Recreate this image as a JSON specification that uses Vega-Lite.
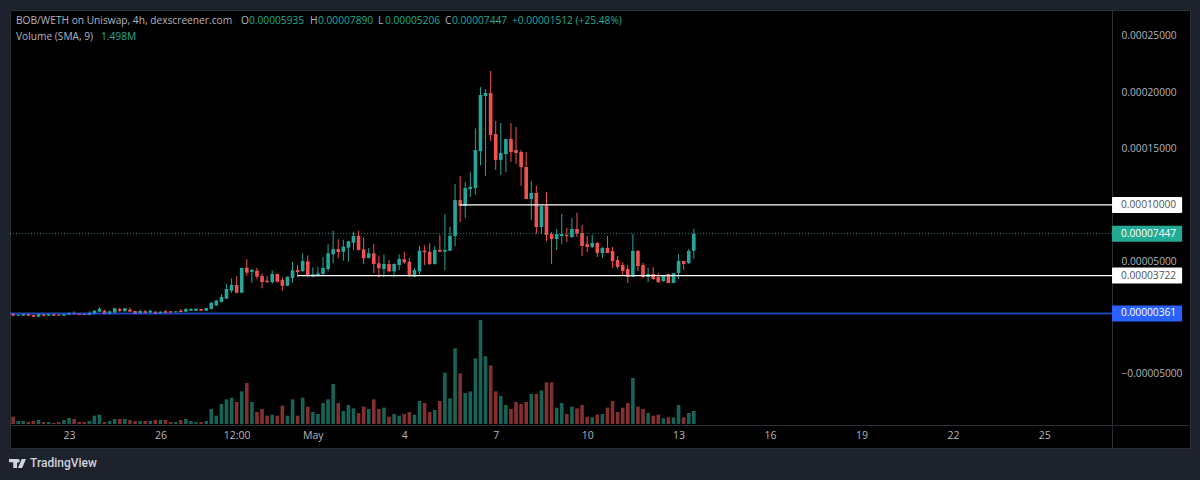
{
  "$schema": "https://vega.github.io/schema/vega-lite/v6.json",
  "autosize": {"type": "none"},
  "padding": {"left": 10, "top": 10, "right": 10, "bottom": 32},
  "width": 1180,
  "height": 438,
  "background": "#1e222d",
  "view": {"fill": "#000000", "stroke": "#2a2e39"},
  "config": {"font": "Open Sans", "text": {"font": "Open Sans"}},
  "datasets": {
    "bars": [
      {"t":"2023-04-21T00:00Z","o":0.0000020,"h":0.0000024,"l":0.0000012,"c":0.0000022,"v":1.95},
      {"t":"2023-04-21T04:00Z","o":0.0000034,"h":0.0000040,"l":0.0000012,"c":0.0000016,"v":1.1},
      {"t":"2023-04-21T08:00Z","o":0.0000016,"h":0.0000028,"l":0.0000012,"c":0.0000025,"v":0.45},
      {"t":"2023-04-21T12:00Z","o":0.0000016,"h":0.0000035,"l":0.0000013,"c":0.0000032,"v":0.45},
      {"t":"2023-04-21T16:00Z","o":0.0000032,"h":0.0000035,"l":0.0000012,"c":0.0000016,"v":0.3},
      {"t":"2023-04-21T20:00Z","o":0.0000022,"h":0.0000026,"l":0.0000004,"c":0.0000007,"v":0.45},
      {"t":"2023-04-22T00:00Z","o":0.0000007,"h":0.0000034,"l":0.0000005,"c":0.0000032,"v":0.6},
      {"t":"2023-04-22T04:00Z","o":0.0000030,"h":0.0000033,"l":0.0000014,"c":0.0000016,"v":0.3},
      {"t":"2023-04-22T08:00Z","o":0.0000016,"h":0.0000036,"l":0.0000013,"c":0.0000032,"v":0.3},
      {"t":"2023-04-22T12:00Z","o":0.0000030,"h":0.0000036,"l":0.0000013,"c":0.0000016,"v":0.15},
      {"t":"2023-04-22T16:00Z","o":0.0000025,"h":0.0000028,"l":0.0000014,"c":0.0000016,"v":0.3},
      {"t":"2023-04-22T20:00Z","o":0.0000016,"h":0.0000034,"l":0.0000014,"c":0.0000032,"v":0.6},
      {"t":"2023-04-23T00:00Z","o":0.0000025,"h":0.0000046,"l":0.0000022,"c":0.0000040,"v":0.9},
      {"t":"2023-04-23T04:00Z","o":0.0000040,"h":0.0000055,"l":0.0000026,"c":0.0000028,"v":0.75},
      {"t":"2023-04-23T08:00Z","o":0.0000034,"h":0.0000037,"l":0.0000020,"c":0.0000022,"v":0.3},
      {"t":"2023-04-23T12:00Z","o":0.0000034,"h":0.0000037,"l":0.0000020,"c":0.0000022,"v":0.3},
      {"t":"2023-04-23T16:00Z","o":0.0000022,"h":0.0000055,"l":0.0000019,"c":0.0000043,"v":0.45},
      {"t":"2023-04-23T20:00Z","o":0.0000031,"h":0.0000065,"l":0.0000028,"c":0.0000060,"v":1.25},
      {"t":"2023-04-24T00:00Z","o":0.0000052,"h":0.0000092,"l":0.0000050,"c":0.0000078,"v":1.4},
      {"t":"2023-04-24T04:00Z","o":0.0000060,"h":0.0000068,"l":0.0000028,"c":0.0000031,"v":0.3},
      {"t":"2023-04-24T08:00Z","o":0.0000031,"h":0.0000060,"l":0.0000028,"c":0.0000055,"v":0.45},
      {"t":"2023-04-24T12:00Z","o":0.0000043,"h":0.0000086,"l":0.0000040,"c":0.0000082,"v":0.75},
      {"t":"2023-04-24T16:00Z","o":0.0000075,"h":0.0000087,"l":0.0000049,"c":0.0000060,"v":0.75},
      {"t":"2023-04-24T20:00Z","o":0.0000055,"h":0.0000085,"l":0.0000052,"c":0.0000082,"v":0.75},
      {"t":"2023-04-25T00:00Z","o":0.0000070,"h":0.0000087,"l":0.0000050,"c":0.0000052,"v":0.6},
      {"t":"2023-04-25T04:00Z","o":0.0000058,"h":0.0000060,"l":0.0000028,"c":0.0000031,"v":0.45},
      {"t":"2023-04-25T08:00Z","o":0.0000034,"h":0.0000070,"l":0.0000031,"c":0.0000058,"v":0.45},
      {"t":"2023-04-25T12:00Z","o":0.0000055,"h":0.0000067,"l":0.0000037,"c":0.0000040,"v":0.45},
      {"t":"2023-04-25T16:00Z","o":0.0000043,"h":0.0000070,"l":0.0000040,"c":0.0000060,"v":0.45},
      {"t":"2023-04-25T20:00Z","o":0.0000052,"h":0.0000055,"l":0.0000028,"c":0.0000031,"v":0.6},
      {"t":"2023-04-26T00:00Z","o":0.0000034,"h":0.0000055,"l":0.0000031,"c":0.0000052,"v":0.6},
      {"t":"2023-04-26T04:00Z","o":0.0000055,"h":0.0000067,"l":0.0000037,"c":0.0000040,"v":0.6},
      {"t":"2023-04-26T08:00Z","o":0.0000055,"h":0.0000058,"l":0.0000040,"c":0.0000043,"v":0.3},
      {"t":"2023-04-26T12:00Z","o":0.0000046,"h":0.0000058,"l":0.0000043,"c":0.0000055,"v":0.3},
      {"t":"2023-04-26T16:00Z","o":0.0000060,"h":0.0000075,"l":0.0000046,"c":0.0000049,"v":0.6},
      {"t":"2023-04-26T20:00Z","o":0.0000052,"h":0.0000084,"l":0.0000049,"c":0.0000075,"v":0.75},
      {"t":"2023-04-27T00:00Z","o":0.0000060,"h":0.0000084,"l":0.0000058,"c":0.0000075,"v":0.45},
      {"t":"2023-04-27T04:00Z","o":0.0000060,"h":0.0000084,"l":0.0000058,"c":0.0000078,"v":0.3},
      {"t":"2023-04-27T08:00Z","o":0.0000075,"h":0.0000078,"l":0.0000058,"c":0.0000060,"v":0.3},
      {"t":"2023-04-27T12:00Z","o":0.0000060,"h":0.0000087,"l":0.0000058,"c":0.0000084,"v":0.45},
      {"t":"2023-04-27T16:00Z","o":0.0000075,"h":0.0000137,"l":0.0000072,"c":0.0000131,"v":2.25},
      {"t":"2023-04-27T20:00Z","o":0.0000108,"h":0.0000158,"l":0.0000102,"c":0.0000149,"v":1.25},
      {"t":"2023-04-28T00:00Z","o":0.0000137,"h":0.0000209,"l":0.0000134,"c":0.0000182,"v":3.0},
      {"t":"2023-04-28T04:00Z","o":0.0000167,"h":0.0000297,"l":0.0000164,"c":0.0000253,"v":3.7},
      {"t":"2023-04-28T08:00Z","o":0.0000238,"h":0.0000348,"l":0.0000220,"c":0.0000289,"v":3.95},
      {"t":"2023-04-28T12:00Z","o":0.0000289,"h":0.0000369,"l":0.0000217,"c":0.0000220,"v":3.3},
      {"t":"2023-04-28T16:00Z","o":0.0000220,"h":0.0000443,"l":0.0000217,"c":0.0000440,"v":4.9},
      {"t":"2023-04-28T20:00Z","o":0.0000442,"h":0.0000517,"l":0.0000369,"c":0.0000398,"v":6.15},
      {"t":"2023-04-29T00:00Z","o":0.0000404,"h":0.0000434,"l":0.0000309,"c":0.0000422,"v":3.3},
      {"t":"2023-04-29T04:00Z","o":0.0000416,"h":0.0000443,"l":0.0000339,"c":0.0000362,"v":1.8},
      {"t":"2023-04-29T08:00Z","o":0.0000369,"h":0.0000392,"l":0.0000259,"c":0.0000315,"v":2.25},
      {"t":"2023-04-29T12:00Z","o":0.0000327,"h":0.0000368,"l":0.0000304,"c":0.0000315,"v":1.25},
      {"t":"2023-04-29T16:00Z","o":0.0000313,"h":0.0000419,"l":0.0000300,"c":0.0000386,"v":1.4},
      {"t":"2023-04-29T20:00Z","o":0.0000386,"h":0.0000390,"l":0.0000310,"c":0.0000318,"v":1.25},
      {"t":"2023-04-30T00:00Z","o":0.0000333,"h":0.0000357,"l":0.0000238,"c":0.0000282,"v":2.75},
      {"t":"2023-04-30T04:00Z","o":0.0000282,"h":0.0000365,"l":0.0000280,"c":0.0000362,"v":1.25},
      {"t":"2023-04-30T08:00Z","o":0.0000350,"h":0.0000493,"l":0.0000309,"c":0.0000419,"v":3.7},
      {"t":"2023-04-30T12:00Z","o":0.0000422,"h":0.0000466,"l":0.0000357,"c":0.0000404,"v":1.25},
      {"t":"2023-04-30T16:00Z","o":0.0000413,"h":0.0000569,"l":0.0000404,"c":0.0000502,"v":3.95},
      {"t":"2023-04-30T20:00Z","o":0.0000499,"h":0.0000552,"l":0.0000357,"c":0.0000369,"v":2.6},
      {"t":"2023-05-01T00:00Z","o":0.0000362,"h":0.0000445,"l":0.0000357,"c":0.0000386,"v":1.8},
      {"t":"2023-05-01T04:00Z","o":0.0000371,"h":0.0000450,"l":0.0000362,"c":0.0000392,"v":1.5},
      {"t":"2023-05-01T08:00Z","o":0.0000386,"h":0.0000537,"l":0.0000380,"c":0.0000440,"v":3.15},
      {"t":"2023-05-01T12:00Z","o":0.0000431,"h":0.0000650,"l":0.0000410,"c":0.0000570,"v":3.7},
      {"t":"2023-05-01T16:00Z","o":0.0000561,"h":0.0000770,"l":0.0000481,"c":0.0000608,"v":6.0},
      {"t":"2023-05-01T20:00Z","o":0.0000608,"h":0.0000694,"l":0.0000526,"c":0.0000582,"v":3.15},
      {"t":"2023-05-02T00:00Z","o":0.0000584,"h":0.0000690,"l":0.0000504,"c":0.0000629,"v":1.95},
      {"t":"2023-05-02T04:00Z","o":0.0000620,"h":0.0000680,"l":0.0000495,"c":0.0000677,"v":2.85},
      {"t":"2023-05-02T08:00Z","o":0.0000664,"h":0.0000760,"l":0.0000602,"c":0.0000724,"v":2.35},
      {"t":"2023-05-02T12:00Z","o":0.0000724,"h":0.0000768,"l":0.0000595,"c":0.0000600,"v":1.65},
      {"t":"2023-05-02T16:00Z","o":0.0000606,"h":0.0000712,"l":0.0000473,"c":0.0000526,"v":2.6},
      {"t":"2023-05-02T20:00Z","o":0.0000528,"h":0.0000617,"l":0.0000525,"c":0.0000570,"v":2.25},
      {"t":"2023-05-03T00:00Z","o":0.0000570,"h":0.0000653,"l":0.0000395,"c":0.0000475,"v":3.7},
      {"t":"2023-05-03T04:00Z","o":0.0000481,"h":0.0000550,"l":0.0000353,"c":0.0000437,"v":2.25},
      {"t":"2023-05-03T08:00Z","o":0.0000431,"h":0.0000560,"l":0.0000357,"c":0.0000475,"v":2.45},
      {"t":"2023-05-03T12:00Z","o":0.0000475,"h":0.0000510,"l":0.0000400,"c":0.0000410,"v":1.1},
      {"t":"2023-05-03T16:00Z","o":0.0000410,"h":0.0000480,"l":0.0000357,"c":0.0000475,"v":1.5},
      {"t":"2023-05-03T20:00Z","o":0.0000466,"h":0.0000560,"l":0.0000420,"c":0.0000520,"v":1.25},
      {"t":"2023-05-04T00:00Z","o":0.0000517,"h":0.0000585,"l":0.0000475,"c":0.0000490,"v":1.5},
      {"t":"2023-05-04T04:00Z","o":0.0000495,"h":0.0000530,"l":0.0000360,"c":0.0000369,"v":1.8},
      {"t":"2023-05-04T08:00Z","o":0.0000362,"h":0.0000440,"l":0.0000357,"c":0.0000422,"v":1.4},
      {"t":"2023-05-04T12:00Z","o":0.0000410,"h":0.0000635,"l":0.0000380,"c":0.0000593,"v":3.45},
      {"t":"2023-05-04T16:00Z","o":0.0000593,"h":0.0000640,"l":0.0000466,"c":0.0000579,"v":3.15},
      {"t":"2023-05-04T20:00Z","o":0.0000584,"h":0.0000660,"l":0.0000466,"c":0.0000475,"v":1.8},
      {"t":"2023-05-05T00:00Z","o":0.0000475,"h":0.0000635,"l":0.0000470,"c":0.0000600,"v":2.1},
      {"t":"2023-05-05T04:00Z","o":0.0000600,"h":0.0000735,"l":0.0000580,"c":0.0000584,"v":3.45},
      {"t":"2023-05-05T08:00Z","o":0.0000584,"h":0.0000919,"l":0.0000419,"c":0.0000600,"v":7.7},
      {"t":"2023-05-05T12:00Z","o":0.0000593,"h":0.0000806,"l":0.0000590,"c":0.0000725,"v":3.85},
      {"t":"2023-05-05T16:00Z","o":0.0000724,"h":0.0001185,"l":0.0000635,"c":0.0001043,"v":11.35},
      {"t":"2023-05-05T20:00Z","o":0.0001043,"h":0.0001256,"l":0.0000848,"c":0.0000990,"v":7.6},
      {"t":"2023-05-06T00:00Z","o":0.0000990,"h":0.0001203,"l":0.0000883,"c":0.0001150,"v":4.65},
      {"t":"2023-05-06T04:00Z","o":0.0001140,"h":0.0001290,"l":0.0001070,"c":0.0001160,"v":4.9},
      {"t":"2023-05-06T08:00Z","o":0.0001150,"h":0.0001680,"l":0.0001090,"c":0.0001487,"v":9.85},
      {"t":"2023-05-06T12:00Z","o":0.0001478,"h":0.0002046,"l":0.0001350,"c":0.0001976,"v":15.6},
      {"t":"2023-05-06T16:00Z","o":0.0001967,"h":0.0002029,"l":0.0001257,"c":0.0001994,"v":10.15},
      {"t":"2023-05-06T20:00Z","o":0.0001994,"h":0.0002189,"l":0.0001567,"c":0.0001621,"v":8.8},
      {"t":"2023-05-07T00:00Z","o":0.0001629,"h":0.0001745,"l":0.0001310,"c":0.0001399,"v":4.9},
      {"t":"2023-05-07T04:00Z","o":0.0001399,"h":0.0001727,"l":0.0001265,"c":0.0001461,"v":4.2},
      {"t":"2023-05-07T08:00Z","o":0.0001452,"h":0.0001585,"l":0.0001292,"c":0.0001585,"v":2.85},
      {"t":"2023-05-07T12:00Z","o":0.0001585,"h":0.0001727,"l":0.0001381,"c":0.0001470,"v":2.25},
      {"t":"2023-05-07T16:00Z","o":0.0001487,"h":0.0001692,"l":0.0001363,"c":0.0001461,"v":3.3},
      {"t":"2023-05-07T20:00Z","o":0.0001470,"h":0.0001487,"l":0.0001168,"c":0.0001336,"v":3.0},
      {"t":"2023-05-08T00:00Z","o":0.0001336,"h":0.0001470,"l":0.0001052,"c":0.0001052,"v":3.3},
      {"t":"2023-05-08T04:00Z","o":0.0001052,"h":0.0001212,"l":0.0000866,"c":0.0001106,"v":4.5},
      {"t":"2023-05-08T08:00Z","o":0.0001106,"h":0.0001168,"l":0.0000741,"c":0.0000804,"v":4.5},
      {"t":"2023-05-08T12:00Z","o":0.0000804,"h":0.0000990,"l":0.0000741,"c":0.0000990,"v":5.05},
      {"t":"2023-05-08T16:00Z","o":0.0000990,"h":0.0001114,"l":0.0000679,"c":0.0000733,"v":6.25},
      {"t":"2023-05-08T20:00Z","o":0.0000741,"h":0.0000759,"l":0.0000475,"c":0.0000697,"v":6.25},
      {"t":"2023-05-09T00:00Z","o":0.0000697,"h":0.0000786,"l":0.0000599,"c":0.0000741,"v":2.45},
      {"t":"2023-05-09T04:00Z","o":0.0000724,"h":0.0000919,"l":0.0000653,"c":0.0000741,"v":3.15},
      {"t":"2023-05-09T08:00Z","o":0.0000733,"h":0.0000795,"l":0.0000670,"c":0.0000724,"v":1.5},
      {"t":"2023-05-09T12:00Z","o":0.0000715,"h":0.0000884,"l":0.0000706,"c":0.0000786,"v":2.6},
      {"t":"2023-05-09T16:00Z","o":0.0000786,"h":0.0000928,"l":0.0000715,"c":0.0000746,"v":2.35},
      {"t":"2023-05-09T20:00Z","o":0.0000750,"h":0.0000821,"l":0.0000546,"c":0.0000635,"v":2.85},
      {"t":"2023-05-10T00:00Z","o":0.0000653,"h":0.0000724,"l":0.0000582,"c":0.0000626,"v":1.1},
      {"t":"2023-05-10T04:00Z","o":0.0000626,"h":0.0000733,"l":0.0000617,"c":0.0000662,"v":1.0},
      {"t":"2023-05-10T08:00Z","o":0.0000662,"h":0.0000670,"l":0.0000537,"c":0.0000573,"v":1.4},
      {"t":"2023-05-10T12:00Z","o":0.0000573,"h":0.0000626,"l":0.0000528,"c":0.0000617,"v":1.5},
      {"t":"2023-05-10T16:00Z","o":0.0000617,"h":0.0000724,"l":0.0000573,"c":0.0000573,"v":2.45},
      {"t":"2023-05-10T20:00Z","o":0.0000591,"h":0.0000626,"l":0.0000440,"c":0.0000502,"v":3.45},
      {"t":"2023-05-11T00:00Z","o":0.0000511,"h":0.0000546,"l":0.0000431,"c":0.0000448,"v":1.8},
      {"t":"2023-05-11T04:00Z","o":0.0000466,"h":0.0000493,"l":0.0000377,"c":0.0000413,"v":2.45},
      {"t":"2023-05-11T08:00Z","o":0.0000431,"h":0.0000466,"l":0.0000306,"c":0.0000360,"v":3.15},
      {"t":"2023-05-11T12:00Z","o":0.0000360,"h":0.0000741,"l":0.0000360,"c":0.0000591,"v":6.9},
      {"t":"2023-05-11T16:00Z","o":0.0000591,"h":0.0000600,"l":0.0000413,"c":0.0000457,"v":2.6},
      {"t":"2023-05-11T20:00Z","o":0.0000466,"h":0.0000484,"l":0.0000351,"c":0.0000360,"v":2.25},
      {"t":"2023-05-12T00:00Z","o":0.0000360,"h":0.0000440,"l":0.0000315,"c":0.0000386,"v":1.65},
      {"t":"2023-05-12T04:00Z","o":0.0000386,"h":0.0000448,"l":0.0000333,"c":0.0000342,"v":1.25},
      {"t":"2023-05-12T08:00Z","o":0.0000360,"h":0.0000395,"l":0.0000306,"c":0.0000315,"v":1.4},
      {"t":"2023-05-12T12:00Z","o":0.0000324,"h":0.0000377,"l":0.0000315,"c":0.0000369,"v":0.85},
      {"t":"2023-05-12T16:00Z","o":0.0000386,"h":0.0000390,"l":0.0000306,"c":0.0000306,"v":1.0},
      {"t":"2023-05-12T20:00Z","o":0.0000306,"h":0.0000395,"l":0.0000306,"c":0.0000395,"v":1.0},
      {"t":"2023-05-13T00:00Z","o":0.0000395,"h":0.0000564,"l":0.0000342,"c":0.0000502,"v":2.85},
      {"t":"2023-05-13T04:00Z","o":0.0000502,"h":0.0000502,"l":0.0000422,"c":0.0000475,"v":1.0},
      {"t":"2023-05-13T08:00Z","o":0.0000484,"h":0.0000608,"l":0.0000475,"c":0.0000591,"v":1.65},
      {"t":"2023-05-13T12:00Z","o":0.00005935,"h":0.0000789,"l":0.00005206,"c":0.00007447,"v":1.95}
    ],
    "levels": [
      {"price": 0.0001, "line": "level", "from": "2023-05-05T20:00Z"},
      {"price": 0.00007447, "line": "last", "from": "2023-04-21T01:32Z"},
      {"price": 0.00003722, "line": "level", "from": "2023-04-30T12:00Z"},
      {"price": 0.00000361, "line": "base", "from": "2023-04-21T01:32Z"}
    ],
    "header": [
      {"part": "pair", "row": 0, "tone": "muted", "text": "BOB/WETH on Uniswap, 4h, dexscreener.com"},
      {"part": "O", "row": 0, "tone": "muted", "text": "O"},
      {"part": "Ov", "row": 0, "tone": "up", "text": "0.00005935"},
      {"part": "H", "row": 0, "tone": "muted", "text": "H"},
      {"part": "Hv", "row": 0, "tone": "up", "text": "0.00007890"},
      {"part": "L", "row": 0, "tone": "muted", "text": "L"},
      {"part": "Lv", "row": 0, "tone": "up", "text": "0.00005206"},
      {"part": "C", "row": 0, "tone": "muted", "text": "C"},
      {"part": "Cv", "row": 0, "tone": "up", "text": "0.00007447"},
      {"part": "chg", "row": 0, "tone": "up", "text": "+0.00001512 (+25.48%)"},
      {"part": "vol", "row": 1, "tone": "muted", "text": "Volume (SMA, 9)"},
      {"part": "volv", "row": 1, "tone": "up", "text": "1.498M"}
    ]
  },
  "layer": [
    {
      "data": {"name": "bars"},
      "mark": {"type": "bar", "width": 3.6, "clip": true, "stroke": null},
      "encoding": {
        "x": {
          "field": "t",
          "type": "temporal",
          "title": null,
          "scale": {"type": "utc", "nice": false, "padding": 0, "domain": ["2023-04-21T01:32Z", "2023-05-29T18:42Z"]},
          "axis": {
            "orient": "bottom",
            "offset": -23,
            "grid": false,
            "ticks": false,
            "domainColor": "#2a2e39",
            "labelColor": "#b2b5be",
            "labelFont": "Open Sans",
            "labelFontSize": 10.5,
            "labelPadding": 5,
            "labelOverlap": false,
            "labelFlush": false,
            "values": ["2023-04-23T00:00Z", "2023-04-26T00:00Z", "2023-04-28T12:00Z", "2023-05-01T00:00Z", "2023-05-04T00:00Z", "2023-05-07T00:00Z", "2023-05-10T00:00Z", "2023-05-13T00:00Z", "2023-05-16T00:00Z", "2023-05-19T00:00Z", "2023-05-22T00:00Z", "2023-05-25T00:00Z"],
            "labelExpr": "utcdate(datum.value) == 1 ? 'May' : utchours(datum.value) == 12 ? '12:00' : utcFormat(datum.value, '%-d')"
          }
        },
        "y": {
          "field": "v",
          "type": "quantitative",
          "stack": null,
          "scale": {"domain": [-3.6, 62.1], "nice": false, "zero": false},
          "axis": null
        },
        "color": {"condition": {"test": "datum.c >= datum.o", "value": "#176357"}, "value": "#83302f"}
      }
    },
    {
      "encoding": {
        "y": {
          "type": "quantitative",
          "scale": {"domain": [-0.0001159, 0.00027309], "nice": false, "zero": false}
        }
      },
      "layer": [
        {
          "data": {"name": "bars"},
          "mark": {"type": "rule", "strokeWidth": 1, "clip": true},
          "encoding": {
            "x": {"field": "t", "type": "temporal", "scale": {"type": "utc", "nice": false}},
            "y": {
              "field": "l",
              "type": "quantitative",
              "title": null,
              "axis": {
                "orient": "right",
                "offset": -78,
                "grid": false,
                "ticks": false,
                "domainColor": "#2a2e39",
                "labelColor": "#b2b5be",
                "labelFont": "Open Sans",
                "labelFontSize": 10.2,
                "labelPadding": 9,
                "labelOverlap": false,
                "labelFlush": false,
                "format": ".8f",
                "values": [-0.00005, 0.00005, 0.00015, 0.0002, 0.00025]
              }
            },
            "y2": {"field": "h"},
            "color": {"condition": {"test": "datum.c >= datum.o", "value": "#26a69a"}, "value": "#ef5350"}
          }
        },
        {
          "data": {"name": "bars"},
          "mark": {"type": "bar", "width": 3.6, "clip": true},
          "encoding": {
            "x": {"field": "t", "type": "temporal", "scale": {"type": "utc", "nice": false}},
            "y": {"field": "o", "type": "quantitative"},
            "y2": {"field": "c"},
            "color": {"condition": {"test": "datum.c >= datum.o", "value": "#26a69a"}, "value": "#ef5350"}
          }
        },
        {
          "data": {"name": "levels"},
          "mark": {"type": "rule"},
          "encoding": {
            "x": {"field": "from", "type": "temporal", "scale": {"type": "utc", "nice": false}},
            "x2": {"datum": {"year": 2023, "month": 5, "date": 27, "hours": 5, "minutes": 18, "utc": true}},
            "y": {"field": "price", "type": "quantitative"},
            "color": {
              "field": "line",
              "type": "nominal",
              "legend": null,
              "scale": {"domain": ["level", "last", "base"], "range": ["#ffffff", "#22ab94", "#2962ff"]}
            },
            "size": {
              "field": "line",
              "type": "nominal",
              "legend": null,
              "scale": {"type": "ordinal", "domain": ["level", "last", "base"], "range": [1.2, 1, 2]}
            },
            "opacity": {
              "field": "line",
              "type": "nominal",
              "legend": null,
              "scale": {"type": "ordinal", "domain": ["level", "last", "base"], "range": [1, 0.8, 0.7]}
            },
            "strokeDash": {
              "field": "line",
              "type": "nominal",
              "legend": null,
              "scale": {"domain": ["level", "last", "base"], "range": [[1, 0], [1, 2], [1, 0]]}
            }
          }
        },
        {
          "data": {"name": "levels"},
          "transform": [
            {"calculate": "datum.price + 0.0000071", "as": "tagTop"},
            {"calculate": "datum.price - 0.0000071", "as": "tagBottom"}
          ],
          "mark": {"type": "rect", "cornerRadius": 1},
          "encoding": {
            "x": {"datum": {"year": 2023, "month": 5, "date": 27, "hours": 5, "minutes": 18, "utc": true}, "type": "temporal", "scale": {"type": "utc", "nice": false}},
            "x2": {"datum": {"year": 2023, "month": 5, "date": 29, "hours": 12, "minutes": 30, "utc": true}},
            "y": {"field": "tagTop", "type": "quantitative"},
            "y2": {"field": "tagBottom"},
            "color": {"field": "line", "type": "nominal", "legend": null}
          }
        },
        {
          "data": {"name": "levels"},
          "mark": {"type": "text", "align": "left", "baseline": "middle", "dx": 9, "fontSize": 10.2, "font": "Open Sans"},
          "encoding": {
            "x": {"datum": {"year": 2023, "month": 5, "date": 27, "hours": 5, "minutes": 18, "utc": true}, "type": "temporal", "scale": {"type": "utc", "nice": false}},
            "y": {"field": "price", "type": "quantitative"},
            "text": {"field": "price", "type": "quantitative", "format": ".8f"},
            "color": {"condition": {"test": "datum.line == 'level'", "value": "#50535e"}, "value": "#ffffff"}
          }
        },
        {
          "data": {"name": "header"},
          "mark": {
            "type": "text",
            "align": "left",
            "baseline": "middle",
            "fontSize": 10.2,
            "font": "Open Sans",
            "dx": {"expr": "{pair: 6, O: 231, Ov: 239, H: 300, Hv: 308, L: 368, Lv: 375, C: 435, Cv: 442, chg: 502, vol: 6, volv: 91}[datum.part]"},
            "dy": {"expr": "datum.row == 0 ? 11 : 27"}
          },
          "encoding": {
            "x": {"datum": {"year": 2023, "month": 4, "date": 21, "hours": 1, "minutes": 32, "utc": true}, "type": "temporal", "scale": {"type": "utc", "nice": false}},
            "y": {"datum": 0.00027309},
            "text": {"field": "text"},
            "color": {"condition": {"test": "datum.tone == 'up'", "value": "#22ab94"}, "value": "#b2b5be"}
          }
        },
        {
          "data": {"values": [{"brand": "TradingView"}]},
          "mark": {"type": "text", "align": "left", "baseline": "middle", "dx": 20, "dy": 15, "fontSize": 12, "fontWeight": 500, "font": "Roboto", "color": "#d1d4dc"},
          "encoding": {
            "x": {"datum": {"year": 2023, "month": 4, "date": 21, "hours": 1, "minutes": 32, "utc": true}, "type": "temporal", "scale": {"type": "utc", "nice": false}},
            "y": {"datum": -0.0001159},
            "text": {"field": "brand"}
          }
        },
        {
          "data": {"values": [{"brand": "TradingView"}]},
          "mark": {
            "type": "point",
            "filled": true,
            "opacity": 1,
            "size": 288,
            "color": "#d1d4dc",
            "shape": "M-1,-0.53 H-0.05 V0.53 H-0.5 V-0.15 H-1 Z M0.05,-0.53 A0.2,0.2 0 1 1 0.05,-0.1 A0.2,0.2 0 1 1 0.05,-0.53 Z M0.5,-0.53 H1 L0.55,0.53 H0.05 Z"
          },
          "encoding": {
            "x": {"datum": {"year": 2023, "month": 4, "date": 21, "hours": 7, "minutes": 26, "utc": true}, "type": "temporal", "scale": {"type": "utc", "nice": false}},
            "y": {"datum": -0.00012966}
          }
        }
      ]
    }
  ],
  "resolve": {"scale": {"y": "independent"}}
}
